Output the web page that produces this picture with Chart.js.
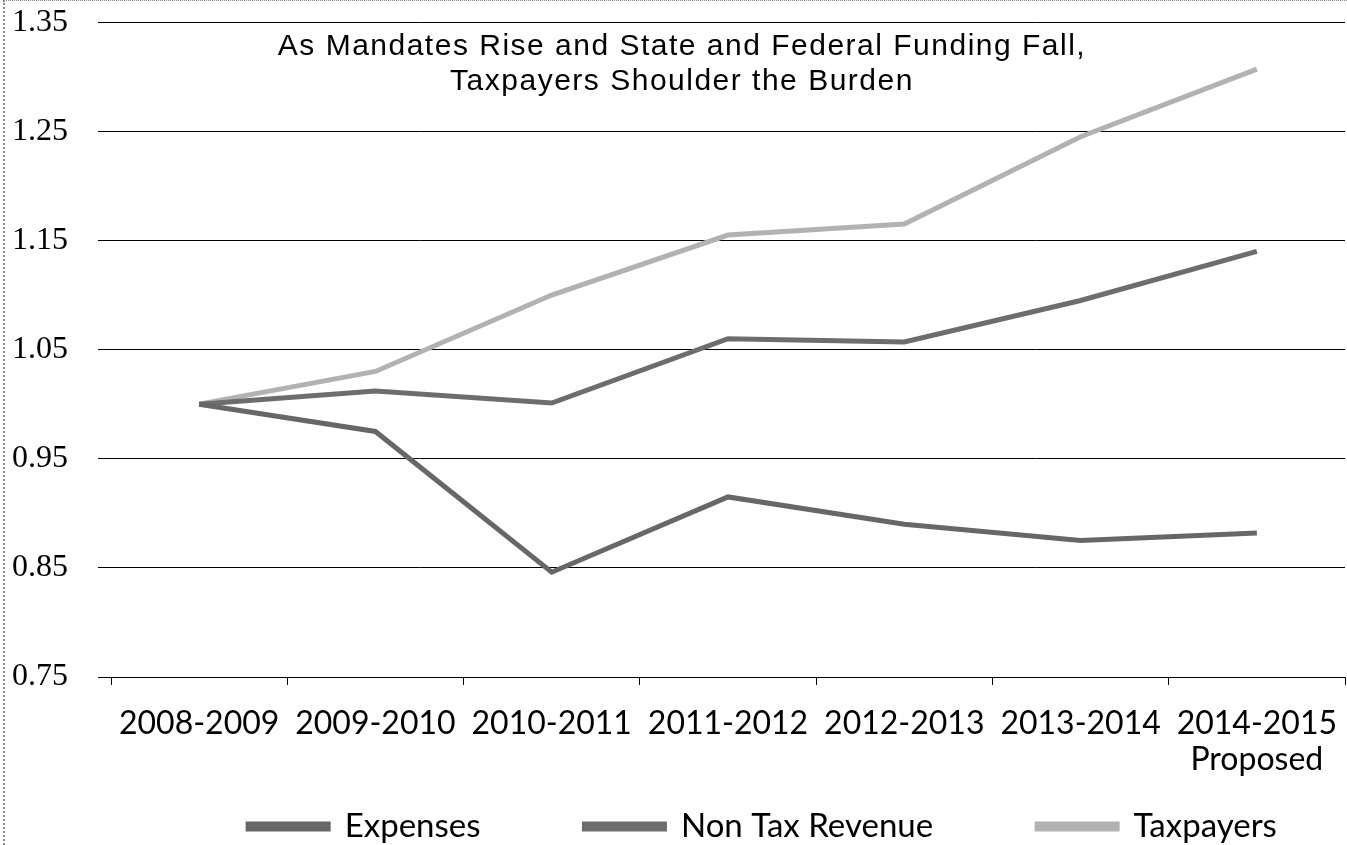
<!DOCTYPE html>
<html>
<head>
<meta charset="utf-8">
<script src="https://cdn.jsdelivr.net/npm/chart.js@4/dist/chart.umd.min.js"></script>
<style>
    html, body { margin: 0; padding: 0; background: #fff; }
    #wrap { width: 1347px; height: 845px; position: relative; }
    #moldura { position: absolute; left: 3px; top: 0; width: 1344px; height: 845px;
               border-left: 2px dotted #888; border-top: 1px dotted #888; box-sizing: border-box; pointer-events: none; }
</style>
</head>
<body>
<div id="wrap"><canvas id="grafico"></canvas><div id="moldura"></div></div>
<script>
const anos = [["2008-2009"], ["2009-2010"], ["2010-2011"], ["2011-2012"], ["2012-2013"], ["2013-2014"], ["2014-2015", "Proposed"]];
const despesas = [1.00, 0.975, 0.846, 0.915, 0.890, 0.875, 0.882];
const receitaNaoTributaria = [1.00, 1.012, 1.001, 1.060, 1.057, 1.095, 1.140];
const contribuintes = [1.00, 1.030, 1.100, 1.155, 1.165, 1.245, 1.307];
const tituloLinhas = ["As Mandates Rise and State and Federal Funding Fall,", "Taxpayers Shoulder the Burden"];

// titulo desenhado dentro da area do grafico, como no original
const tituloInterno = {
    id: 'tituloInterno',
    afterDraw(chart) {
        const ctx = chart.ctx;
        ctx.save();
        ctx.fillStyle = '#000';
        ctx.font = '30px "Liberation Sans", Arial, sans-serif';
        ctx.letterSpacing = '1.5px';
        ctx.textAlign = 'center';
        ctx.textBaseline = 'middle';
        ctx.fillText(tituloLinhas[0], 682, 47);
        ctx.fillText(tituloLinhas[1], 682, 82);
        ctx.restore();
    }
};

// legenda do excel fica um pouco a direita e mais perto do eixo
const ajusteLegenda = {
    id: 'ajusteLegenda',
    afterLayout(chart) {
        const lg = chart.legend;
        lg.left += 84;
        lg.right += 84;
        lg.top = 706;
        lg.bottom = 845;
        lg.height = 139;
    }
};

function serie(label, dados, cor) {
    return {
        label: label,
        data: dados,
        borderColor: cor,
        backgroundColor: cor,
        borderWidth: 5,
        pointRadius: 0,
        tension: 0
    };
}

new Chart(document.getElementById('grafico'), {
    type: 'line',
    data: {
        labels: anos,
        datasets: [
            serie('Expenses', despesas, '#676767'),
            serie('Non Tax Revenue', receitaNaoTributaria, '#6d6d6d'),
            serie('Taxpayers', contribuintes, '#b2b2b2')
        ]
    },
    options: {
        responsive: true,
        maintainAspectRatio: false,
        animation: false,
        layout: { padding: { top: 13, right: 2, left: 12, bottom: 0 } },
        plugins: {
            legend: {
                position: 'bottom',
                maxHeight: 68,
                labels: {
                    color: '#000',
                    font: { family: 'Lato, sans-serif', size: 33 },
                    boxWidth: 80,
                    boxHeight: 5,
                    padding: 104
                }
            },
            tooltip: { enabled: false }
        },
        scales: {
            x: {
                offset: true,
                afterFit(scale) {
                    scale.height = 100;
                    scale.paddingLeft = 0;
                    scale.paddingRight = 0;
                },
                grid: {
                    offset: true,
                    drawOnChartArea: false,
                    color: '#000',
                    tickLength: 8
                },
                border: { color: '#000', width: 1 },
                ticks: {
                    color: '#000',
                    font: { family: 'Lato, sans-serif', size: 32, lineHeight: 1.12 },
                    maxRotation: 0,
                    autoSkip: false,
                    padding: 21
                }
            },
            y: {
                min: 0.75,
                max: 1.35,
                afterFit(scale) { scale.width = 99; },
                grid: { color: '#000', lineWidth: 1, drawTicks: true, tickLength: 13 },
                border: { display: false },
                ticks: {
                    stepSize: 0.1,
                    color: '#000',
                    crossAlign: 'far',
                    font: { family: '"Liberation Serif", serif', size: 32 },
                    callback: v => v.toFixed(2)
                }
            }
        }
    },
    plugins: [tituloInterno, ajusteLegenda]
});
</script>
</body>
</html>
